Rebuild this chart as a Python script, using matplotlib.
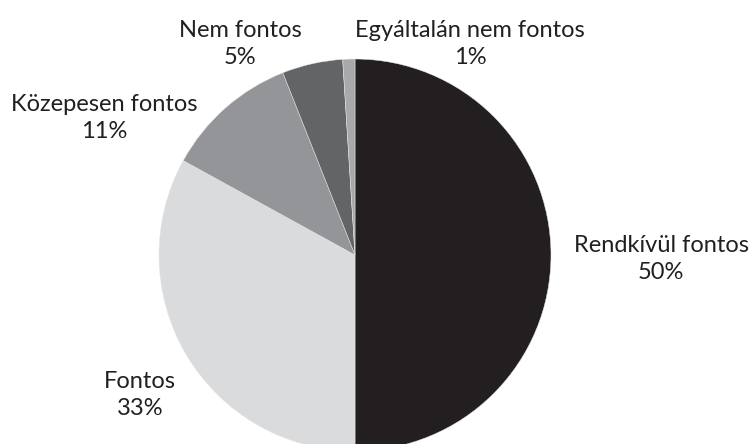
import matplotlib
matplotlib.use('Agg')
import matplotlib.pyplot as plt

# Data
categories = ['Rendkívül fontos', 'Fontos', 'Közepesen fontos', 'Nem fontos', 'Egyáltalán nem fontos']
values = [50, 33, 11, 5, 1]
colors = ['#231f20', '#dadbdc', '#939598', '#636466', '#a7a9ac']

# label centres in pixel offsets from pie centre (x right, y up)
label_pos = [(306, -4), (-215, -140), (-251, 137), (-115, 211), (115, 211)]

plt.rcParams['font.family'] = ['Lato', 'DejaVu Sans']

W, H = 754, 444
cx, cy, r = 355, 255, 196

fig = plt.figure(figsize=(W / 100, H / 100), dpi=100)
ax = fig.add_axes([0, 0, 1, 1])

ax.pie(values, colors=colors, startangle=90, counterclock=False,
       radius=r, center=(0, 0),
       wedgeprops=dict(edgecolor='#e6e6e6', linewidth=0.35))

for cat, val, (dx, dy) in zip(categories, values, label_pos):
    ax.text(dx, dy, f'{cat}\n{val}%', ha='center', va='center',
            fontsize=17, color='#231f20', linespacing=1.3)

ax.set_xlim(-cx, W - cx)
ax.set_ylim(-(H - cy), cy)
ax.set_aspect('equal')
ax.axis('off')

fig.savefig('out.png', dpi=100)
